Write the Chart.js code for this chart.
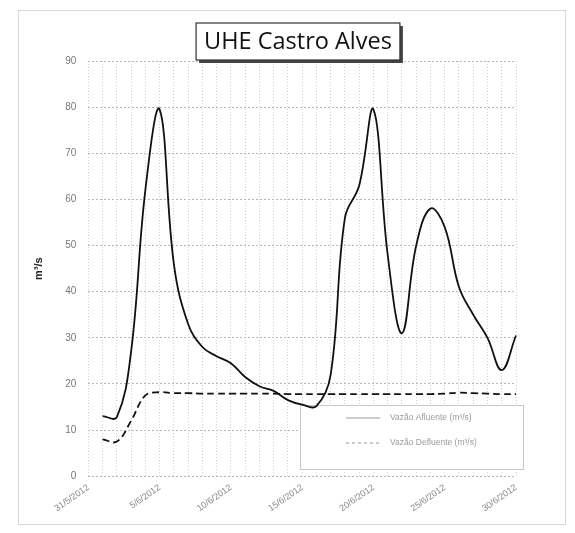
<!DOCTYPE html>
<html><head><meta charset="utf-8">
<script src="https://cdn.jsdelivr.net/npm/chart.js@4.4.1/dist/chart.umd.min.js"></script>
<style>html,body{margin:0;padding:0;background:#fff}#wrap{width:575px;height:533px}</style>
</head><body><div id="wrap"><canvas id="c" width="575" height="533"></canvas></div>
<script>
const categories = ["31/5/2012","1/6","2/6","3/6","4/6","5/6/2012","6/6","7/6","8/6","9/6","10/6/2012","11/6","12/6","13/6","14/6","15/6/2012","16/6","17/6","18/6","19/6","20/6/2012","21/6","22/6","23/6","24/6","25/6/2012","26/6","27/6","28/6","29/6","30/6/2012"];
const afluente = [null,13,12.8,27,62,79.5,46,33,28,26,24.5,21.5,19.5,18.5,16.5,15.5,15.2,22,56,63,79.5,48,31,50,58,54,41,35,30,23,30.5];
const defluente = [null,8,7.5,12,17.5,18.2,18,18,17.9,17.9,17.9,17.9,17.9,17.9,17.8,17.8,17.8,17.8,17.8,17.8,17.8,17.8,17.8,17.8,17.8,17.9,18.1,18,17.9,17.8,17.8];
const seriesNames = ["Vazão Afluente (m³/s)","Vazão Defluente (m³/s)"];
const titleText = "UHE Castro Alves";
const yTitle = "m³/s";

const decor = {
  id:'decor',
  beforeDraw(chart){
    const ctx=chart.ctx;
    ctx.save();
    ctx.fillStyle='#fff';ctx.fillRect(0,0,chart.width,chart.height);
    ctx.strokeStyle='#d8d8d8';ctx.lineWidth=1;
    ctx.strokeRect(18.5,10.5,547,514);
    ctx.restore();
  },
  beforeDatasetsDraw(chart){
    const ctx=chart.ctx;
    ctx.save();
    const lx=300, ly=405, lw=223, lh=64;
    ctx.fillStyle='#fff';ctx.fillRect(lx+1,ly+1,lw-1,lh-1);
    ctx.strokeStyle='#c8c8c8';ctx.lineWidth=1;ctx.setLineDash([]);
    ctx.strokeRect(lx+0.5,ly+0.5,lw,lh);
    ctx.font='8.5px "Liberation Sans", sans-serif';ctx.textAlign='left';ctx.textBaseline='middle';
    const rows=[{y:418,dash:[]},{y:443,dash:[3,3]}];
    rows.forEach((r,i)=>{
      ctx.strokeStyle='#9a9a9a';ctx.lineWidth=1;ctx.setLineDash(r.dash);
      ctx.beginPath();ctx.moveTo(lx+46,r.y);ctx.lineTo(lx+80,r.y);ctx.stroke();
      ctx.fillStyle='#9a9a9a';ctx.fillText(seriesNames[i],lx+90,r.y);
    });
    ctx.restore();
  },
  afterDraw(chart){
    const ctx=chart.ctx;
    ctx.save();
    ctx.font='23.5px "Open Sans", "Liberation Sans", sans-serif';
    const tw=ctx.measureText(titleText).width;
    const cx=298, bx=cx-tw/2-8, by=23, bw=tw+16, bh=37;
    ctx.fillStyle='#444';ctx.fillRect(bx+3,by+3,bw,bh);
    ctx.fillStyle='#fff';ctx.fillRect(bx,by,bw,bh);
    ctx.strokeStyle='#333';ctx.lineWidth=1.2;ctx.strokeRect(bx,by,bw,bh);
    ctx.fillStyle='#111';ctx.textAlign='center';ctx.textBaseline='middle';
    ctx.fillText(titleText,cx,by+bh/2+1);
    ctx.restore();
  }
};

new Chart(document.getElementById('c'),{
  type:'line',
  data:{labels:categories,datasets:[
    {label:seriesNames[0],data:afluente,borderColor:'#111',borderWidth:1.8,pointRadius:0,tension:0.4,fill:false},
    {label:seriesNames[1],data:defluente,borderColor:'#111',borderWidth:1.8,borderDash:[7,4],pointRadius:0,tension:0.4,fill:false}
  ]},
  options:{
    responsive:false,animation:false,
    layout:{padding:{top:61,right:59,left:28,bottom:13}},
    plugins:{legend:{display:false},title:{display:false},tooltip:{enabled:false}},
    scales:{
      x:{offset:false,
        grid:{color:'#cfcfcf',drawTicks:false,lineWidth:1},
        border:{display:false,dash:[1,2]},
        ticks:{autoSkip:false,minRotation:35,maxRotation:35,color:'#888',font:{size:9,family:'"Liberation Sans", sans-serif'},padding:6,
          callback:(v,i)=> i%5===0 ? categories[i] : ''}},
      y:{min:0,max:90,
        grid:{color:'#b8b8b8',drawTicks:false},
        border:{display:false,dash:[2,2]},
        ticks:{stepSize:10,color:'#777',font:{size:10,family:'"Liberation Sans", sans-serif'},padding:12},
        title:{display:true,text:yTitle,color:'#222',font:{size:11,weight:'bold',family:'"Liberation Sans", sans-serif'},padding:{bottom:8}}}
    }
  },
  plugins:[decor]
});
</script></body></html>
